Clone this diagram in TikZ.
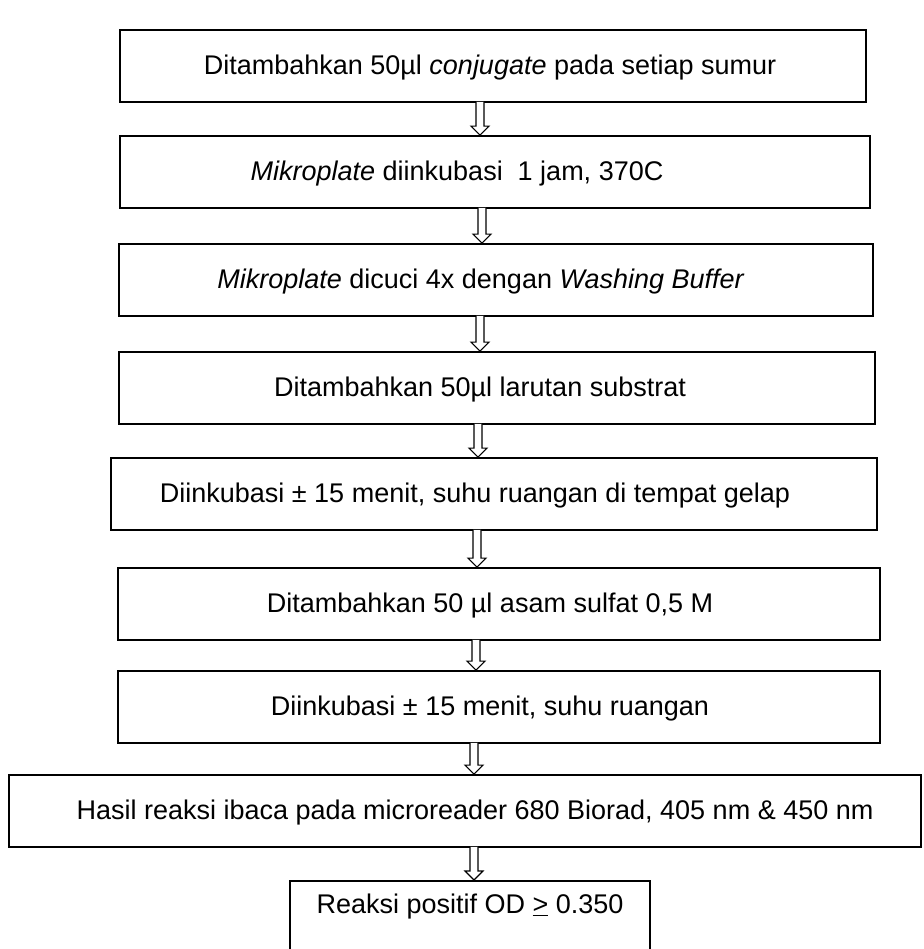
\documentclass[tikz,border=0pt]{standalone}
\usepackage{fontspec}
\setmainfont{Liberation Sans}
\usetikzlibrary{calc}
\begin{document}
\begin{tikzpicture}[x=1pt,y=-1pt,
  stepbox/.style={draw, line width=1.8pt, inner sep=0pt, minimum height=72pt},
  txt/.style={inner sep=0pt, font=\fontsize{27}{30}\selectfont},
  conn/.style={draw=black, fill=white, line width=1.1pt, line join=miter}]
\useasboundingbox (0,0) rectangle (923,949);
\clip (0,0) rectangle (923,949);
\node[stepbox, minimum width=746pt] (s1) at (493,66) {};
\node[stepbox, minimum width=750pt] (s2) at (495,172) {};
\node[stepbox, minimum width=754pt] (s3) at (496,280) {};
\node[stepbox, minimum width=756pt] (s4) at (497,388) {};
\node[stepbox, minimum width=766pt] (s5) at (494,494) {};
\node[stepbox, minimum width=762pt] (s6) at (499,604) {};
\node[stepbox, minimum width=762pt] (s7) at (499,707) {};
\node[stepbox, minimum width=912pt] (s8) at (465,811) {};
\node[draw, line width=1.8pt, minimum width=360pt, minimum height=100pt, anchor=north] (s9) at (470,880) {};
\node[txt] (t1) at ($(s1.center)+(-3,2)$) {Ditambahkan 50µl \textit{conjugate} pada setiap sumur};
\node[txt] (t2) at ($(s2.center)+(-38,2)$) {\textit{Mikroplate} diinkubasi\ \ 1 jam, 370C};
\node[txt] (t3) at ($(s3.center)+(-15,2)$) {\textit{Mikroplate} dicuci 4x dengan \textit{Washing Buffer}};
\node[txt] (t4) at ($(s4.center)+(-17,2)$) {Ditambahkan 50µl larutan substrat};
\node[txt] (t5) at ($(s5.center)+(-19,2)$) {Diinkubasi ± 15 menit, suhu ruangan di tempat gelap};
\node[txt] (t6) at ($(s6.center)+(-9,2)$) {Ditambahkan 50 µl asam sulfat 0,5 M};
\node[txt] (t7) at ($(s7.center)+(-9,2)$) {Diinkubasi ± 15 menit, suhu ruangan};
\node[txt] (t8) at ($(s8.center)+(10,2)$) {Hasil reaksi ibaca pada microreader 680 Biorad, 405 nm \& 450 nm};
\node[txt, anchor=north] (t9) at ($(s9.north)+(0,14)$) {Reaksi positif OD \underline{>} 0.350};
\foreach \a/\b/\x in {s1/s2/480,s2/s3/482,s3/s4/480,s4/s5/478,s5/s6/477,s6/s7/476,s7/s8/474,s8/s9/474}{
  \coordinate (p) at (\a.south -| \x,0);
  \coordinate (q) at (\b.north -| \x,0);
  \draw[conn] ($(p)+(-4,-1)$) -- ($(q)+(-4,-9)$) -- ($(q)+(-9,-9)$) -- (q)
     -- ($(q)+(9,-9)$) -- ($(q)+(4,-9)$) -- ($(p)+(4,-1)$);
}
\end{tikzpicture}
\end{document}
